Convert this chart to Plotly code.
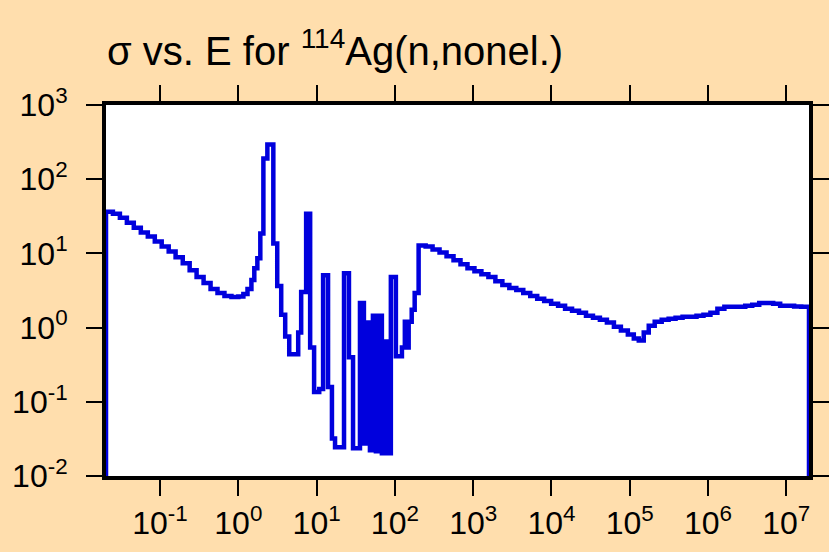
import math
import plotly.graph_objects as go

# Step-wise cross section: energy (eV) where each step starts, and sigma (barns)
energy_low = [0.0204, 0.0250, 0.0307, 0.0377, 0.0462, 0.0568, 0.0698, 0.0857, 0.105, 0.129,
              0.158, 0.195, 0.239, 0.293, 0.360, 0.442, 0.542, 0.665, 0.817, 1.00]
sigma_low = [36.3, 34.1, 30.2, 25.9, 22.2, 19.1, 16.9, 14.5, 12.4, 10.6,
             8.85, 7.36, 5.93, 4.79, 3.98, 3.31, 2.93, 2.67, 2.59, 2.62]

energy_res1 = [1.16, 1.31, 1.47, 1.60, 1.75, 1.91, 2.09, 2.35, 2.80, 3.14, 3.53, 3.97, 4.47]
sigma_res1 = [2.84, 3.31, 4.37, 6.31, 8.58, 18.5, 190, 293, 13.6, 3.63, 1.49, 0.759, 0.437]

energy_res2 = [5.82, 6.35, 7.35, 8.27, 9.29, 10.8, 12.1, 14.0, 15.7, 17.2]
sigma_res2 = [0.858, 3.02, 34.1, 0.541, 0.136, 0.149, 5.09, 0.158, 0.0321, 0.0244]

energy_res3 = [22.4, 25.9, 29.2, 35.8, 40.2, 43.9, 48.0, 52.4, 57.2, 62.5, 68.2,
               74.5, 81.3, 88.8, 103, 123, 134, 142, 150, 164, 179]
sigma_res3 = [5.41, 0.398, 0.0236, 2.15, 0.0275, 1.17, 0.0222, 1.45, 0.0216, 1.45, 0.0203,
              0.651, 0.0203, 4.79, 0.410, 0.541, 1.20, 0.541, 1.20, 1.74, 2.93]

energy_mid = [201, 247, 303, 372, 457, 561, 689, 846, 1038, 1274,
              1565, 1922, 2360, 2897, 3556, 4365, 5358, 6577, 8075, 9910,
              12160, 14930, 18330, 22500, 27620, 33900, 41600, 51100, 62800, 77100,
              94600, 112700]
sigma_mid = [12.8, 12.4, 11.3, 10.3, 9.12, 8.07, 7.14, 6.31, 5.75, 5.25,
             4.79, 4.23, 3.74, 3.41, 3.21, 2.93, 2.67, 2.44, 2.29, 2.09,
             1.97, 1.79, 1.69, 1.58, 1.45, 1.36, 1.28, 1.17, 1.03, 0.912,
             0.807, 0.714]

energy_fast = [130500, 151000, 175000, 208500, 256000, 314000, 385000, 473000, 580000, 713000,
               875000, 1.074e6, 1.318e6, 1.618e6, 1.986e6, 2.44e6, 2.99e6, 3.67e6, 4.51e6, 5.54e6,
               6.80e6, 8.35e6, 1.03e7, 1.26e7, 1.55e7]
sigma_fast = [0.671, 0.858, 1.06, 1.20, 1.28, 1.32, 1.36, 1.40, 1.40, 1.45,
              1.49, 1.58, 1.79, 1.91, 1.91, 1.91, 1.97, 2.03, 2.15, 2.15,
              2.09, 1.97, 1.97, 1.93, 1.91]

energy_end = 1.95e7
sigma_floor = 1e-2

x_tick_exps = [-1, 0, 1, 2, 3, 4, 5, 6, 7]
y_tick_exps = [-2, -1, 0, 1, 2, 3]

energy = energy_low + energy_res1 + energy_res2 + energy_res3 + energy_mid + energy_fast
sigma = sigma_low + sigma_res1 + sigma_res2 + sigma_res3 + sigma_mid + sigma_fast

xs = [energy[0]] + energy + [energy_end, energy_end]
ys = [sigma_floor] + sigma + [sigma[-1], sigma_floor]

FONT = "Liberation Sans, Arial, Helvetica, sans-serif"
BG = "#FFDEAD"

fig = go.Figure()
fig.add_trace(go.Scatter(
    x=xs, y=ys, mode="lines", line=dict(color="#0000DD", width=4.5, shape="hv"),
    showlegend=False, hoverinfo="skip"))

axis_common = dict(
    type="log", showgrid=False, zeroline=False, automargin=False,
    showline=True, linecolor="black", linewidth=4, mirror="ticks",
    ticks="outside", ticklen=16, tickwidth=2, tickcolor="black",
    tickfont=dict(family=FONT, size=32, color="black"),
)

fig.update_layout(
    width=829, height=552,
    paper_bgcolor=BG, plot_bgcolor="white",
    margin=dict(l=106, r=20, t=105, b=76),
    title=dict(text="σ vs. E for <sup>114</sup>Ag(n,nonel.)",
               font=dict(family=FONT, size=40, color="black"),
               x=107 / 829, xanchor="left", xref="container",
               y=1 - 51 / 552, yanchor="middle", yref="container"),
    xaxis=dict(axis_common,
               range=[math.log10(energy[0]), math.log10(energy_end)],
               tickvals=[10.0 ** e for e in x_tick_exps],
               ticktext=[f"10<sup>{e}</sup>" for e in x_tick_exps]),
    yaxis=dict(axis_common,
               range=[-2, 3], ticklabelstandoff=12,
               tickvals=[10.0 ** e for e in y_tick_exps],
               ticktext=[f"10<sup>{e}</sup>" for e in y_tick_exps]),
)

fig.write_html(
    "out.html",
    config={"displayModeBar": False, "staticPlot": True},
    post_script=f"document.body.style.margin='0';document.body.style.background='{BG}';"
                "document.body.style.overflow='hidden';",
)
